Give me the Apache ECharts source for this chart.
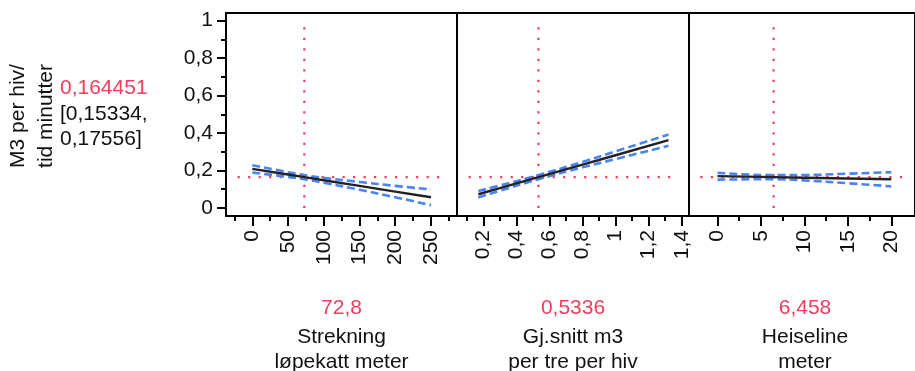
<!DOCTYPE html>
<html>
<head>
<meta charset="utf-8">
<script src="https://cdn.jsdelivr.net/npm/echarts@6/dist/echarts.min.js"></script>
<style>
  html, body { margin: 0; padding: 0; background: #ffffff; }
  #chart { width: 915px; height: 371px; }
</style>
</head>
<body>
<div id="chart"></div>
<script>
// ---- Response at the current factor settings ----
const responseName = ['M3 per hiv/', 'tid minutter'];
const currentResponse = 0.164451;
const responseCI = [0.15334, 0.17556];

// ---- Factors and their current settings ----
const factorNames = [
  ['Strekning', 'løpekatt meter'],
  ['Gj.snitt m3', 'per tre per hiv'],
  ['Heiseline', 'meter']
];
const currentSettings = [72.8, 0.5336, 6.458];

// ---- Profile traces: prediction with lower/upper confidence limits ----
const xStrekning     = [0, 50, 72.8, 100, 150, 200, 250];
const predStrekning  = [0.2086, 0.1783, 0.164451, 0.1480, 0.1177, 0.0874, 0.0571];
const upperStrekning = [0.228, 0.191, 0.17556, 0.161, 0.139, 0.118, 0.099];
const lowerStrekning = [0.189, 0.166, 0.15334, 0.135, 0.097, 0.057, 0.015];

const xGjsnitt     = [0.17, 0.3, 0.5336, 0.8, 1.0, 1.32];
const predGjsnitt  = [0.0732, 0.1058, 0.164451, 0.2313, 0.2815, 0.3618];
const upperGjsnitt = [0.090, 0.120, 0.17556, 0.246, 0.302, 0.392];
const lowerGjsnitt = [0.056, 0.092, 0.15334, 0.217, 0.261, 0.332];

const xHeiseline     = [0, 6.458, 10, 15, 20];
const predHeiseline  = [0.1699, 0.164451, 0.1614, 0.1572, 0.1529];
const upperHeiseline = [0.188, 0.17556, 0.176, 0.183, 0.191];
const lowerHeiseline = [0.151, 0.15334, 0.147, 0.132, 0.115];

// ---- Tick values ----
const yTicks      = [0, 0.2, 0.4, 0.6, 0.8, 1];
const yMinorTicks = [0.1, 0.3, 0.5, 0.7, 0.9];
const xTicksStrekning = [0, 50, 100, 150, 200, 250];
const xMinorStrekning = [-25, 25, 75, 125, 175, 225, 275];
const xTicksGjsnitt   = [0.2, 0.4, 0.6, 0.8, 1, 1.2, 1.4];
const xMinorGjsnitt   = [0.1, 0.3, 0.5, 0.7, 0.9, 1.1, 1.3];
const xTicksHeiseline = [0, 5, 10, 15, 20];
const xMinorHeiseline = [2.5, 7.5, 12.5, 17.5];

// ---- Layout & style ----
const FONT = '"Liberation Sans", Arial, sans-serif';
const FS = 21;
const RED = '#f23c5c';
const BLUE = '#4a84f0';
const INK = '#111111';
const panels = [
  { left: 226, width: 231, range: [-36.8, 286.4], x: xStrekning, pred: predStrekning, up: upperStrekning, lo: lowerStrekning, ticks: xTicksStrekning, minor: xMinorStrekning },
  { left: 457, width: 232, range: [0.041, 1.444], x: xGjsnitt, pred: predGjsnitt, up: upperGjsnitt, lo: lowerGjsnitt, ticks: xTicksGjsnitt, minor: xMinorGjsnitt },
  { left: 689, width: 232, range: [-3.28, 22.73], x: xHeiseline, pred: predHeiseline, up: upperHeiseline, lo: lowerHeiseline, ticks: xTicksHeiseline, minor: xMinorHeiseline }
];
const gridTop = 13, gridHeight = 203;
const yRange = [-0.043, 1.041];

const comma = v => String(v).replace('.', ',');
const zip = (a, b) => a.map((v, i) => [v, b[i]]);
const tickStyle = { color: '#000', width: 2 };

const grids = [], xAxes = [], yAxes = [], series = [], graphics = [];

panels.forEach((p, i) => {
  grids.push({
    left: p.left, top: gridTop, width: p.width, height: gridHeight,
    show: true, borderColor: '#000', borderWidth: 2, backgroundColor: 'transparent'
  });
  // major ticks with labels
  xAxes.push({
    gridIndex: i, type: 'value', position: 'bottom', min: p.range[0], max: p.range[1],
    axisLine: { show: false, onZero: false }, splitLine: { show: false },
    axisTick: { show: true, customValues: p.ticks, length: 10, lineStyle: tickStyle },
    axisLabel: { show: true, customValues: p.ticks, rotate: 90, margin: 14, formatter: comma,
      color: INK, fontFamily: FONT, fontSize: FS }
  });
  // minor ticks
  xAxes.push({
    gridIndex: i, type: 'value', position: 'bottom', min: p.range[0], max: p.range[1],
    axisLine: { show: false, onZero: false }, splitLine: { show: false },
    axisTick: { show: true, customValues: p.minor, length: 5, lineStyle: tickStyle },
    axisLabel: { show: false }
  });
});

// y axes: labelled on the first panel only
yAxes.push({
  gridIndex: 0, type: 'value', position: 'left', min: yRange[0], max: yRange[1],
  axisLine: { show: false, onZero: false }, splitLine: { show: false },
  axisTick: { show: true, customValues: yTicks, length: 9, lineStyle: tickStyle },
  axisLabel: { show: true, customValues: yTicks, margin: 13, formatter: comma,
    color: INK, fontFamily: FONT, fontSize: FS }
});
yAxes.push({
  gridIndex: 0, type: 'value', position: 'left', min: yRange[0], max: yRange[1],
  axisLine: { show: false, onZero: false }, splitLine: { show: false },
  axisTick: { show: true, customValues: yMinorTicks, length: 5, lineStyle: tickStyle },
  axisLabel: { show: false }
});
[1, 2].forEach(g => yAxes.push({
  gridIndex: g, type: 'value', min: yRange[0], max: yRange[1], show: false,
  axisLine: { onZero: false }, splitLine: { show: false }
}));

const yIndexFor = [0, 2, 3];

panels.forEach((p, i) => {
  const xi = i * 2, yi = yIndexFor[i];
  const span = p.range[1] - p.range[0];
  const base = { type: 'line', xAxisIndex: xi, yAxisIndex: yi, symbol: 'none', silent: true, animation: false };
  // reference lines at current settings
  series.push(Object.assign({}, base, {
    data: [[p.range[0] + 0.05 * span, currentResponse], [p.range[1] - 0.05 * span, currentResponse]],
    lineStyle: { color: RED, width: 2.2, type: [2.2, 8.3] }, z: 2
  }));
  series.push(Object.assign({}, base, {
    data: [[currentSettings[i], 0], [currentSettings[i], 0.98]],
    lineStyle: { color: RED, width: 2.2, type: [2.2, 8.3] }, z: 2
  }));
  // confidence limits
  series.push(Object.assign({}, base, {
    data: zip(p.x, p.up), smooth: true,
    lineStyle: { color: BLUE, width: 2.6, type: [8, 4] }, z: 3
  }));
  series.push(Object.assign({}, base, {
    data: zip(p.x, p.lo), smooth: true,
    lineStyle: { color: BLUE, width: 2.6, type: [8, 4] }, z: 3
  }));
  // prediction trace
  series.push(Object.assign({}, base, {
    data: zip(p.x, p.pred),
    lineStyle: { color: '#222222', width: 2.4 }, z: 4
  }));

  // factor value and name below each panel
  const cx = p.left + p.width / 2;
  graphics.push({
    type: 'text', x: cx, y: 308, silent: true,
    style: { text: comma(currentSettings[i]), fill: RED, font: FS + 'px ' + FONT,
      align: 'center', verticalAlign: 'middle' }
  });
  graphics.push({
    type: 'text', x: cx, y: 350, silent: true,
    style: { text: factorNames[i].join('\n'), fill: INK, font: FS + 'px ' + FONT,
      align: 'center', verticalAlign: 'middle', lineHeight: 25 }
  });
});

// response title and current value with its interval
graphics.push({
  type: 'text', x: 32, y: 116, rotation: Math.PI / 2, silent: true,
  style: { text: responseName.join('\n'), fill: INK, font: FS + 'px ' + FONT,
    align: 'center', verticalAlign: 'middle', lineHeight: 28 }
});
graphics.push({
  type: 'text', x: 60, y: 88, silent: true,
  style: { text: comma(currentResponse), fill: RED, font: FS + 'px ' + FONT,
    align: 'left', verticalAlign: 'middle' }
});
graphics.push({
  type: 'text', x: 60, y: 127, silent: true,
  style: { text: '[' + comma(responseCI[0]) + ',\n' + comma(responseCI[1]) + ']', fill: INK,
    font: FS + 'px ' + FONT, align: 'left', verticalAlign: 'middle', lineHeight: 25 }
});

const chart = echarts.init(document.getElementById('chart'), null, { renderer: 'canvas' });
chart.setOption({
  animation: false,
  backgroundColor: '#ffffff',
  grid: grids,
  xAxis: xAxes,
  yAxis: yAxes,
  series: series,
  graphic: graphics
});
</script>
</body>
</html>
